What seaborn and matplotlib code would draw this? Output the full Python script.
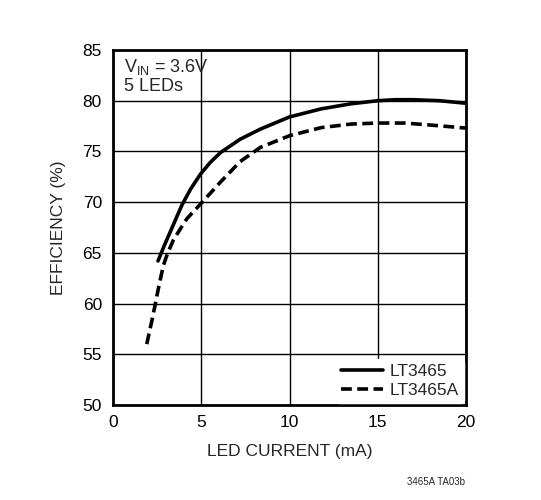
import matplotlib
matplotlib.use("Agg")
import matplotlib.pyplot as plt
import seaborn as sns
import pandas as pd

# LT3465 (solid)
lt3465_ma = [2.55, 2.9, 3.25, 3.6, 3.9, 4.4, 4.95, 5.5, 6.1, 7.2, 8.35, 10.0,
             11.8, 13.5, 15.0, 16.0, 17.0, 18.5, 20.0]
lt3465_eff = [64.2, 65.7, 67.1, 68.5, 69.7, 71.3, 72.75, 73.9, 74.9, 76.2, 77.2, 78.4,
              79.2, 79.7, 80.0, 80.1, 80.1, 80.0, 79.75]

# LT3465A (dashed)
lt3465a_ma = [1.91, 2.2, 2.4, 2.63, 2.86, 3.1, 3.43, 3.9, 4.2, 4.95, 6.1, 7.2,
              8.35, 10.0, 11.8, 13.5, 15.0, 16.5, 18.0, 20.0]
lt3465a_eff = [56.0, 58.3, 60.0, 62.0, 63.8, 65.0, 66.3, 67.6, 68.4, 69.8, 72.0, 74.0,
               75.4, 76.55, 77.35, 77.7, 77.8, 77.8, 77.6, 77.3]

x_ticks = [0, 5, 10, 15, 20]
y_ticks = [50, 55, 60, 65, 70, 75, 80, 85]

sns.set_style("white")
plt.rcParams['font.family'] = ['Liberation Sans', 'DejaVu Sans']

df = pd.concat([
    pd.DataFrame({'ma': lt3465_ma, 'eff': lt3465_eff, 'part': 'LT3465'}),
    pd.DataFrame({'ma': lt3465a_ma, 'eff': lt3465a_eff, 'part': 'LT3465A'}),
])

fig = plt.figure(figsize=(5.41, 5.0), dpi=100)
ax = fig.add_axes([0.2089, 0.19, 0.6525, 0.71])

sns.lineplot(data=df, x='ma', y='eff', style='part', color='black',
             dashes={'LT3465': '', 'LT3465A': (3.0, 1.5)},
             linewidth=2.6, ax=ax, sort=False, zorder=3)

ax.set_xlim(0, 20)
ax.set_ylim(50, 85)
ax.set_xticks(x_ticks)
ax.set_yticks(y_ticks)
ax.grid(True, color='black', linewidth=1.0)
for s in ax.spines.values():
    s.set_linewidth(2.0)
    s.set_color('black')
ax.tick_params(axis='both', length=0, labelsize=12.5, colors='black')
ax.tick_params(axis='y', pad=8)
ax.tick_params(axis='x', pad=7)

ax.set_xlabel('LED CURRENT (mA)', fontsize=12.5, labelpad=10)
ax.set_ylabel('EFFICIENCY (%)', fontsize=12.5, labelpad=12)

ax.text(0.6, 84.3, r'V$_{\mathregular{IN}}$ = 3.6V' + '\n5 LEDs', fontsize=13,
        va='top', ha='left', linespacing=1.1, zorder=4)

leg = ax.legend(loc='lower right', fontsize=12.5, frameon=True, handlelength=2.4,
                borderaxespad=0.1, borderpad=0.3, labelspacing=0.2, handletextpad=0.4)
leg.get_frame().set_edgecolor('white')
leg.get_frame().set_facecolor('white')
leg.get_frame().set_alpha(1.0)
leg.set_zorder(5)
leg.set_title(None)

fig.text(0.86, 0.036, '3465A TA03b', fontsize=7, ha='right', va='center')

fig.savefig('out.png', dpi=100)
